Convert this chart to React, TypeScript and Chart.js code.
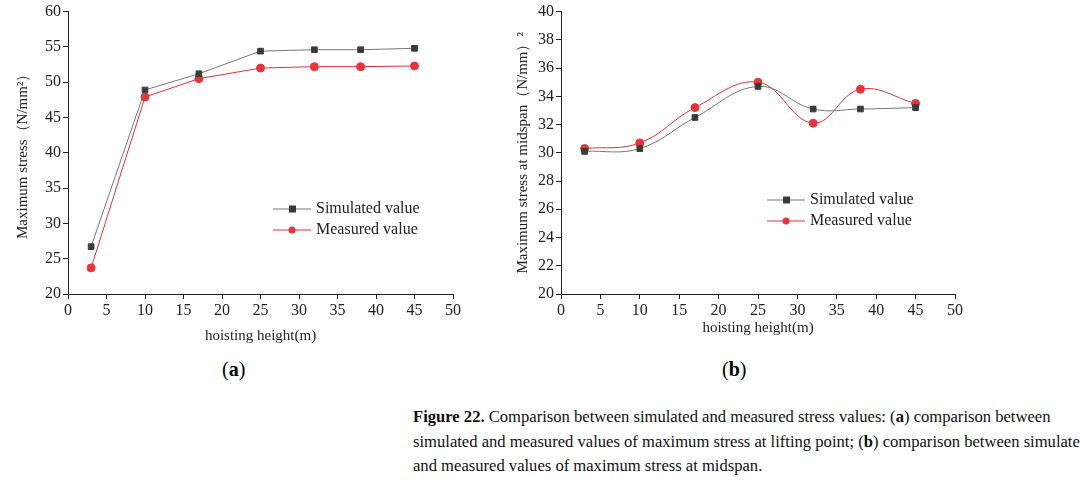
import React, { useEffect, useRef } from "react";
import { Chart, registerables } from "chart.js";
Chart.register(...registerables);

const heights = [3, 10, 17, 25, 32, 38, 45];
const simA = [26.7, 48.9, 51.2, 54.4, 54.6, 54.6, 54.8];
const measA = [23.7, 47.9, 50.5, 52.0, 52.2, 52.2, 52.3];
const simB = [30.1, 30.3, 32.5, 34.7, 33.1, 33.1, 33.2];
const measB = [30.3, 30.7, 33.2, 35.0, 32.1, 34.5, 33.5];
const seriesNames = ["Simulated value", "Measured value"];

const SERIF = "'Liberation Serif', serif";

function legendPlugin(lx: number, ly: number) {
  return {
    id: "lg",
    afterDraw(chart: any) {
      const ctx = chart.ctx;
      chart.data.datasets.forEach((ds: any, i: number) => {
        const y = ly + i * 21;
        ctx.save();
        ctx.strokeStyle = ds.borderColor;
        ctx.lineWidth = 1;
        ctx.beginPath();
        ctx.moveTo(lx, y);
        ctx.lineTo(lx + 38, y);
        ctx.stroke();
        ctx.fillStyle = ds.pointBackgroundColor;
        if (ds.pointStyle === "rect") ctx.fillRect(lx + 16, y - 3.5, 7, 7);
        else { ctx.beginPath(); ctx.arc(lx + 19, y, 3.5, 0, Math.PI * 2); ctx.fill(); }
        ctx.fillStyle = "#222";
        ctx.font = `16px ${SERIF}`;
        ctx.textBaseline = "middle";
        ctx.fillText(ds.label, lx + 43, y);
        ctx.restore();
      });
    },
  };
}

function Panel(props: any) {
  const ref = useRef<HTMLCanvasElement>(null);
  useEffect(() => {
    const { sim, meas, ymin, ymax, step, ytitle, yw, xh, right, left, tension, lx, ly } = props;
    const mk = (label: string, data: number[], color: string, pcolor: string, style: string) => ({
      label, data: heights.map((x, i) => ({ x, y: data[i] })), borderColor: color, borderWidth: 1,
      pointBackgroundColor: pcolor, pointBorderColor: pcolor, pointStyle: style, pointRadius: 4, tension,
    });
    const axis = { color: "#222", font: { family: SERIF, size: 16 } };
    const c = new Chart(ref.current!, {
      type: "line",
      data: { datasets: [mk(seriesNames[0], sim, "#777", "#3a3a3a", "rect"), mk(seriesNames[1], meas, "#e0303a", "#e8333b", "circle")] },
      options: {
        animation: false, responsive: false,
        layout: { padding: { top: 10, right, left, bottom: 0 } },
        plugins: { legend: { display: false }, tooltip: { enabled: false } },
        scales: {
          x: {
            type: "linear", min: 0, max: 50,
            ticks: { stepSize: 5, ...axis, padding: 2 },
            grid: { drawOnChartArea: false, tickLength: 5, color: "#222" },
            border: { color: "#222" },
            title: { display: true, text: "hoisting height(m)", color: "#222", font: { family: SERIF, size: 15 }, padding: 0 },
            afterFit: (s: any) => { s.height = xh; },
          },
          y: {
            min: ymin, max: ymax,
            ticks: { stepSize: step, ...axis, padding: 2 },
            grid: { drawOnChartArea: false, tickLength: 5, color: "#222" },
            border: { color: "#222" },
            title: { display: true, text: ytitle, color: "#222", font: { family: SERIF, size: 15 }, padding: { top: 0, bottom: 4 } },
            afterFit: (s: any) => { s.width = yw; },
          },
        },
      },
      plugins: [legendPlugin(lx, ly)],
    } as any);
    return () => c.destroy();
  }, []);
  return <canvas ref={ref} width={props.w} height={props.h} style={{ position: "absolute", left: props.cl, top: 0 }} />;
}

export default function App() {
  const cap: React.CSSProperties = { position: "absolute", left: 413, fontFamily: SERIF, fontSize: 16.6, color: "#111", whiteSpace: "nowrap" };
  return (
    <div style={{ position: "absolute", left: 0, top: 0, width: 1080, height: 491, background: "#fff" }}>
      <Panel cl={0} w={480} h={345} sim={simA} meas={measA} ymin={20} ymax={60} step={5}
        ytitle="Maximum stress（N/mm²）" left={14} yw={54} xh={51} right={27} tension={0} lx={273} ly={209} />
      <Panel cl={500} w={480} h={337} sim={simB} meas={measB} ymin={20} ymax={40} step={2}
        ytitle="Maximum stress at midspan（N/mm）²" left={14} yw={47} xh={43} right={25} tension={0.4} lx={267} ly={200} />
      <div style={{ position: "absolute", left: 222, top: 358, fontFamily: SERIF, fontSize: 20 }}>(<b>a</b>)</div>
      <div style={{ position: "absolute", left: 722, top: 358, fontFamily: SERIF, fontSize: 20 }}>(<b>b</b>)</div>
      <div style={{ ...cap, top: 407 }}><b>Figure 22.</b> Comparison between simulated and measured stress values: (<b>a</b>) comparison between</div>
      <div style={{ ...cap, top: 432 }}>simulated and measured values of maximum stress at lifting point; (<b>b</b>) comparison between simulated</div>
      <div style={{ ...cap, top: 456 }}>and measured values of maximum stress at midspan.</div>
    </div>
  );
}
